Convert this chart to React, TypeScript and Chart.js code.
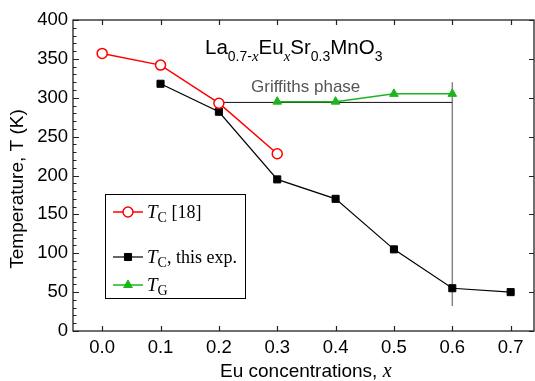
import React, { useEffect, useRef } from 'react';
import { Chart, registerables } from 'chart.js';

Chart.register(...registerables);

// ---- data ----
const tcRefX = [0.0, 0.1, 0.2, 0.3];
const tcRefY = [357, 342, 293, 228];
const tcExpX = [0.1, 0.2, 0.3, 0.4, 0.5, 0.6, 0.7];
const tcExpY = [318, 282, 195, 170, 105, 55, 50];
const tgX = [0.3, 0.4, 0.5, 0.6];
const tgY = [295, 295, 305, 305];
const griffithsX = [0.2, 0.6];
const griffithsY = [294, 294];
const boundaryX = [0.6, 0.6];
const boundaryY = [32, 320];
const xTickValues = [0.0, 0.1, 0.2, 0.3, 0.4, 0.5, 0.6, 0.7];
const yTickValues = [0, 50, 100, 150, 200, 250, 300, 350, 400];
const yMinorValues = Array.from({ length: 41 }, (_, i) => i * 10);

const RED = '#ff0000';
const BLACK = '#000000';
const GREEN = '#1fb41f';
const SANS = '"Liberation Sans", Arial, sans-serif';
const SERIF = '"Liberation Serif", "Times New Roman", serif';

type Run = { text: string; font: string; dy?: number };

function drawRuns(ctx: CanvasRenderingContext2D, x: number, y: number, runs: Run[]) {
  let cx = x;
  ctx.textAlign = 'left';
  ctx.textBaseline = 'alphabetic';
  for (const r of runs) {
    ctx.font = r.font;
    ctx.fillText(r.text, cx, y + (r.dy || 0));
    cx += ctx.measureText(r.text).width;
  }
  return cx - x;
}

const pts = (xs: number[], ys: number[]) => xs.map((x, i) => ({ x, y: ys[i] }));

function drawMarker(ctx: CanvasRenderingContext2D, style: string, r: number, x: number, y: number) {
  ctx.beginPath();
  if (style === 'circle') {
    ctx.arc(x, y, r, 0, Math.PI * 2);
  } else if (style === 'rect') {
    const s = Math.SQRT1_2 * r;
    ctx.rect(x - s, y - s, 2 * s, 2 * s);
  } else if (style === 'triangle') {
    const half = (r * Math.sqrt(3)) / 2;
    ctx.moveTo(x, y - r);
    ctx.lineTo(x - half, y + r / 2);
    ctx.lineTo(x + half, y + r / 2);
    ctx.closePath();
  }
  ctx.fill();
  ctx.stroke();
}

const decorPlugin = {
  id: 'decor',
  afterDraw(chart: any) {
    const ctx: CanvasRenderingContext2D = chart.ctx;
    const { left, right, top, bottom } = chart.chartArea;
    const xs = chart.scales.x;
    const ys = chart.scales.y;
    ctx.save();
    // frame
    ctx.strokeStyle = '#222';
    ctx.lineWidth = 1.3;
    ctx.strokeRect(left, top, right - left, bottom - top);
    // inward ticks
    ctx.lineWidth = 1.2;
    ctx.beginPath();
    for (const v of xTickValues) {
      const px = Math.round(xs.getPixelForValue(v)) + 0.5;
      ctx.moveTo(px, bottom);
      ctx.lineTo(px, bottom - 5);
      ctx.moveTo(px, top);
      ctx.lineTo(px, top + 5);
    }
    for (const v of yMinorValues) {
      const py = Math.round(ys.getPixelForValue(v)) + 0.5;
      const major = v % 50 === 0;
      ctx.moveTo(left, py);
      ctx.lineTo(left + (major ? 6 : 3.5), py);
      if (major) {
        ctx.moveTo(right, py);
        ctx.lineTo(right - 5, py);
      }
    }
    ctx.stroke();

    // title
    ctx.fillStyle = '#000';
    const big = `20.5px ${SANS}`;
    const sub = `14px ${SANS}`;
    const subIt = `italic 15px ${SERIF}`;
    drawRuns(ctx, 205, 54, [
      { text: 'La', font: big },
      { text: '0.7-', font: sub, dy: 7 },
      { text: 'x', font: subIt, dy: 7 },
      { text: 'Eu', font: big },
      { text: 'x', font: subIt, dy: 7 },
      { text: 'Sr', font: big },
      { text: '0.3', font: sub, dy: 7 },
      { text: 'MnO', font: big },
      { text: '3', font: sub, dy: 7 },
    ]);

    // Griffiths phase
    ctx.fillStyle = '#555';
    drawRuns(ctx, 251, 92, [{ text: 'Griffiths phase', font: `17px ${SANS}` }]);

    // axis titles
    ctx.fillStyle = '#000';
    drawRuns(ctx, 220, 377, [
      { text: 'Eu concentrations, ', font: `19px ${SANS}` },
      { text: 'x', font: `italic 20px ${SERIF}` },
    ]);
    ctx.save();
    ctx.translate(23, 189);
    ctx.rotate(-Math.PI / 2);
    ctx.font = `19px ${SANS}`;
    ctx.textAlign = 'center';
    ctx.textBaseline = 'alphabetic';
    ctx.fillText('Temperature, T (K)', 0, 0);
    ctx.restore();

    // legend
    ctx.fillStyle = '#fff';
    ctx.fillRect(105.5, 194.5, 140, 104);
    ctx.strokeStyle = '#000';
    ctx.lineWidth = 1;
    ctx.strokeRect(105.5, 194.5, 140, 104);
    const rows = [
      { ds: 0, y: 212, runs: [{ t: 'T', it: true }, { t: 'C', s: true }, { t: ' [18]' }] },
      { ds: 1, y: 257, runs: [{ t: 'T', it: true }, { t: 'C', s: true }, { t: ', this exp.' }] },
      { ds: 2, y: 285, runs: [{ t: 'T', it: true }, { t: 'G', s: true }] },
    ];
    for (const row of rows) {
      const ds = chart.data.datasets[row.ds];
      ctx.strokeStyle = ds.borderColor;
      ctx.lineWidth = ds.borderWidth;
      ctx.beginPath();
      ctx.moveTo(113, row.y);
      ctx.lineTo(143, row.y);
      ctx.stroke();
      ctx.fillStyle = ds.pointBackgroundColor;
      ctx.strokeStyle = ds.borderColor;
      ctx.lineWidth = ds.pointBorderWidth;
      drawMarker(ctx, ds.pointStyle, ds.pointRadius, 128, row.y);
      ctx.fillStyle = '#000';
      drawRuns(
        ctx,
        147,
        row.y + 6,
        row.runs.map((r: any) => ({
          text: r.t,
          font: r.it ? `italic 19px ${SERIF}` : r.s ? `14px ${SERIF}` : `18px ${SERIF}`,
          dy: r.s ? 4 : 0,
        }))
      );
    }
    ctx.restore();
  },
};

export default function App() {
  const ref = useRef<HTMLCanvasElement | null>(null);
  useEffect(() => {
    document.body.style.margin = '0';
    const canvas = ref.current!;
    const chart = new Chart(canvas, {
      type: 'line',
      data: {
        datasets: [
          {
            label: 'TC [18]',
            data: pts(tcRefX, tcRefY),
            borderColor: RED,
            backgroundColor: '#fff',
            pointBackgroundColor: '#fff',
            pointBorderColor: RED,
            borderWidth: 1.5,
            pointBorderWidth: 1.5,
            pointRadius: 5,
            pointStyle: 'circle',
          },
          {
            label: 'TC, this exp.',
            data: pts(tcExpX, tcExpY),
            borderColor: BLACK,
            backgroundColor: BLACK,
            pointBackgroundColor: BLACK,
            pointBorderColor: BLACK,
            borderWidth: 1.2,
            pointBorderWidth: 1,
            pointRadius: 5,
            pointStyle: 'rect',
          },
          {
            label: 'TG',
            data: pts(tgX, tgY),
            borderColor: GREEN,
            backgroundColor: GREEN,
            pointBackgroundColor: GREEN,
            pointBorderColor: GREEN,
            borderWidth: 1.5,
            pointBorderWidth: 1,
            pointRadius: 5,
            pointStyle: 'triangle',
          },
          {
            label: 'griffiths',
            data: pts(griffithsX, griffithsY),
            borderColor: '#111',
            borderWidth: 1,
            pointRadius: 0,
          },
          {
            label: 'boundary',
            data: pts(boundaryX, boundaryY),
            borderColor: '#888',
            borderWidth: 1.5,
            pointRadius: 0,
          },
        ] as any,
      },
      options: {
        animation: false,
        responsive: false,
        devicePixelRatio: 1,
        layout: { autoPadding: false, padding: { top: 20, right: 1, left: 0, bottom: 0 } },
        plugins: { legend: { display: false }, tooltip: { enabled: false }, title: { display: false } },
        scales: {
          x: {
            type: 'linear',
            min: -0.05,
            max: 0.74,
            grid: { display: false, drawTicks: false },
            border: { display: false },
            afterBuildTicks: (s: any) => {
              s.ticks = xTickValues.map((v) => ({ value: v }));
            },
            afterFit: (s: any) => {
              s.height = 50;
              s.paddingLeft = 0;
              s.paddingRight = 0;
            },
            ticks: {
              color: '#000',
              padding: 6,
              maxRotation: 0,
              autoSkip: false,
              font: { family: SANS, size: 18.5 },
              callback: (v: any) => Number(v).toFixed(1),
            },
          },
          y: {
            type: 'linear',
            min: 0,
            max: 400,
            grid: { display: false, drawTicks: false },
            border: { display: false },
            afterBuildTicks: (s: any) => {
              s.ticks = yTickValues.map((v) => ({ value: v }));
            },
            afterFit: (s: any) => {
              s.width = 73;
              s.paddingTop = 0;
              s.paddingBottom = 0;
            },
            ticks: {
              color: '#000',
              padding: 5,
              autoSkip: false,
              font: { family: SANS, size: 18.5 },
              callback: (v: any) => String(v),
            },
          },
        },
      } as any,
      plugins: [decorPlugin],
    });
    return () => chart.destroy();
  }, []);
  return (
    <div style={{ position: 'absolute', left: 0, top: 0, width: 535, height: 381 }}>
      <canvas ref={ref} width={535} height={381} />
    </div>
  );
}
